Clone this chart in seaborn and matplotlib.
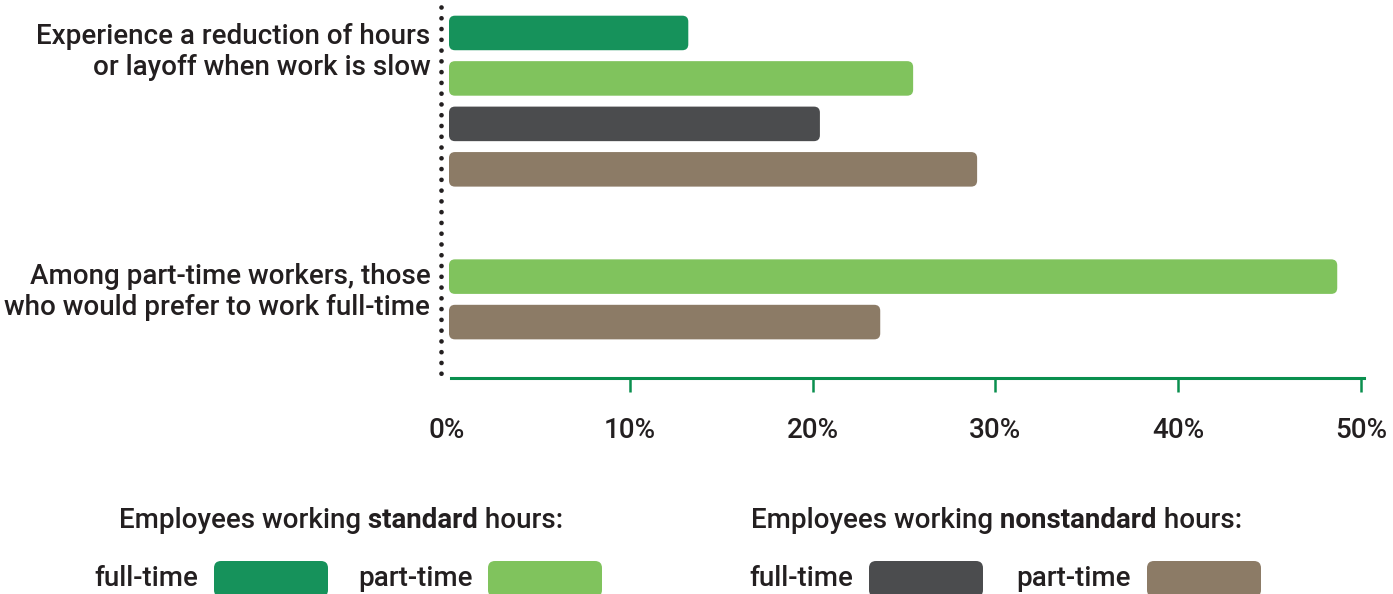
import numpy as np
import pandas as pd
import seaborn as sns
import matplotlib.pyplot as plt
from matplotlib.patches import FancyBboxPatch
from matplotlib.lines import Line2D

# ---------------- data ----------------
categories = ["Experience a reduction of hours\nor layoff when work is slow",
              "Among part-time workers, those\nwho would prefer to work full-time"]
series = ["standard full-time", "standard part-time",
          "nonstandard full-time", "nonstandard part-time"]
colors = ["#16925B", "#80C35D", "#4B4C4E", "#8C7B66"]
reduction_series = ["standard full-time", "standard part-time",
                    "nonstandard full-time", "nonstandard part-time"]
reduction_values = [13.2, 25.5, 20.4, 29.0]
prefer_series = ["standard part-time", "nonstandard part-time"]
prefer_values = [48.7, 23.7]
x_ticks = [0, 10, 20, 30, 40, 50]
x_tick_labels = ["0%", "10%", "20%", "30%", "40%", "50%"]
legend_groups = ["standard", "nonstandard"]
legend_kinds = ["full-time", "part-time"]

# ---------------- style ----------------
sns.set_style("white")
FONT = ["Roboto", "Liberation Sans", "DejaVu Sans"]
plt.rcParams["font.family"] = FONT
TXT = "#231F20"
AXIS_GREEN = "#0A8F4E"

W, H = 1393, 594
fig = plt.figure(figsize=(W / 100, H / 100), dpi=100)
ax_left, ax_right, ax_top, ax_bottom = 447, 1361, 5, 378
ax = fig.add_axes([ax_left / W, 1 - ax_bottom / H, (ax_right - ax_left) / W, (ax_bottom - ax_top) / H])

group2_start = 5.36
rows = []
for i, (s, v) in enumerate(zip(reduction_series, reduction_values)):
    rows.append({"series": s, "value": v, "pos": float(i)})
for j, (s, v) in enumerate(zip(prefer_series, prefer_values)):
    rows.append({"series": s, "value": v, "pos": group2_start + j})
df = pd.DataFrame(rows)

sns.barplot(data=df, x="value", y="pos", hue="series", hue_order=series,
            palette=colors, orient="h", native_scale=True, dodge=False,
            width=0.76, saturation=1, legend=False, ax=ax)

ax.set_xlim(0, 50)
ax.set_ylim(group2_start + 1 + 1.23, -0.615)

# rounded bars
fig.canvas.draw()
bbox = ax.get_window_extent()
x_per_px = 50 / bbox.width
y_per_px = (group2_start + 1 + 1.23 + 0.615) / bbox.height
r_px = 6
for p in list(ax.patches):
    x0, y0, w, h = p.get_x(), p.get_y(), p.get_width(), p.get_height()
    fc = p.get_facecolor()
    p.remove()
    ax.add_patch(FancyBboxPatch((x0 + 2 * x_per_px, y0), w - 2 * x_per_px, h,
                                boxstyle=f"round,pad=0,rounding_size={r_px * x_per_px}",
                                mutation_aspect=y_per_px / x_per_px,
                                fc=fc, ec="none", zorder=2))

# axes styling
for s in ["left", "top", "right"]:
    ax.spines[s].set_visible(False)
ax.spines["bottom"].set_color(AXIS_GREEN)
ax.spines["bottom"].set_linewidth(2.2)
ax.spines["bottom"].set_bounds(4 * x_per_px, 50 + 3 * x_per_px)
ax.set_xticks(x_ticks, x_tick_labels)
ax.tick_params(axis="x", bottom=True, direction="out", length=10, width=1.8,
               color=AXIS_GREEN, pad=18, labelsize=20, labelcolor=TXT)
ax.xaxis.get_major_ticks()[0].tick1line.set_visible(False)
ax.set_yticks([0.3, group2_start + 0.22], categories)
ax.tick_params(axis="y", left=False, length=0, pad=12, labelsize=20, labelcolor=TXT)
for lbl in ax.get_yticklabels() + ax.get_xticklabels():
    lbl.set_fontweight("medium")
ax.set_xlabel("")
ax.set_ylabel("")

# dotted vertical line
xd = 441 / W
fig.add_artist(Line2D([xd, xd], [1 - 7 / H, 1 - 379 / H], transform=fig.transFigure,
                      color=TXT, lw=3.4, linestyle=(0, (0.001, 2.28)),
                      dash_capstyle="round"))

# legend
title_x = [119, 751]
title_y = 520
item_text_x = [[94, 358], [749, 1016]]
item_box_x = [[214, 488], [869, 1147]]
box_w, box_h, box_top = 114, 36, 561
item_y = 578
for g, grp in enumerate(legend_groups):
    t1 = fig.text(title_x[g] / W, 1 - title_y / H, "Employees working", ha="left", va="center",
                  fontsize=20, color=TXT, fontweight="medium")
    t2 = ax.annotate(" " + grp, xy=(1, 0), xycoords=t1, ha="left", va="bottom",
                     fontsize=20, color=TXT, fontweight="bold", annotation_clip=False)
    ax.annotate(" hours:", xy=(1, 0), xycoords=t2, ha="left", va="bottom",
                fontsize=20, color=TXT, fontweight="medium", annotation_clip=False)
    for k, kind in enumerate(legend_kinds):
        fig.text(item_text_x[g][k] / W, 1 - item_y / H, kind, ha="left", va="center",
                 fontsize=20, color=TXT, fontweight="medium")
        col = colors[g * 2 + k]
        fig.add_artist(FancyBboxPatch((item_box_x[g][k] / W, 1 - (box_top + box_h) / H),
                                      box_w / W, box_h / H,
                                      boxstyle=f"round,pad=0,rounding_size={7 / W}",
                                      mutation_aspect=W / H,
                                      transform=fig.transFigure, fc=col, ec="none"))

fig.savefig("out.png", dpi=100)
